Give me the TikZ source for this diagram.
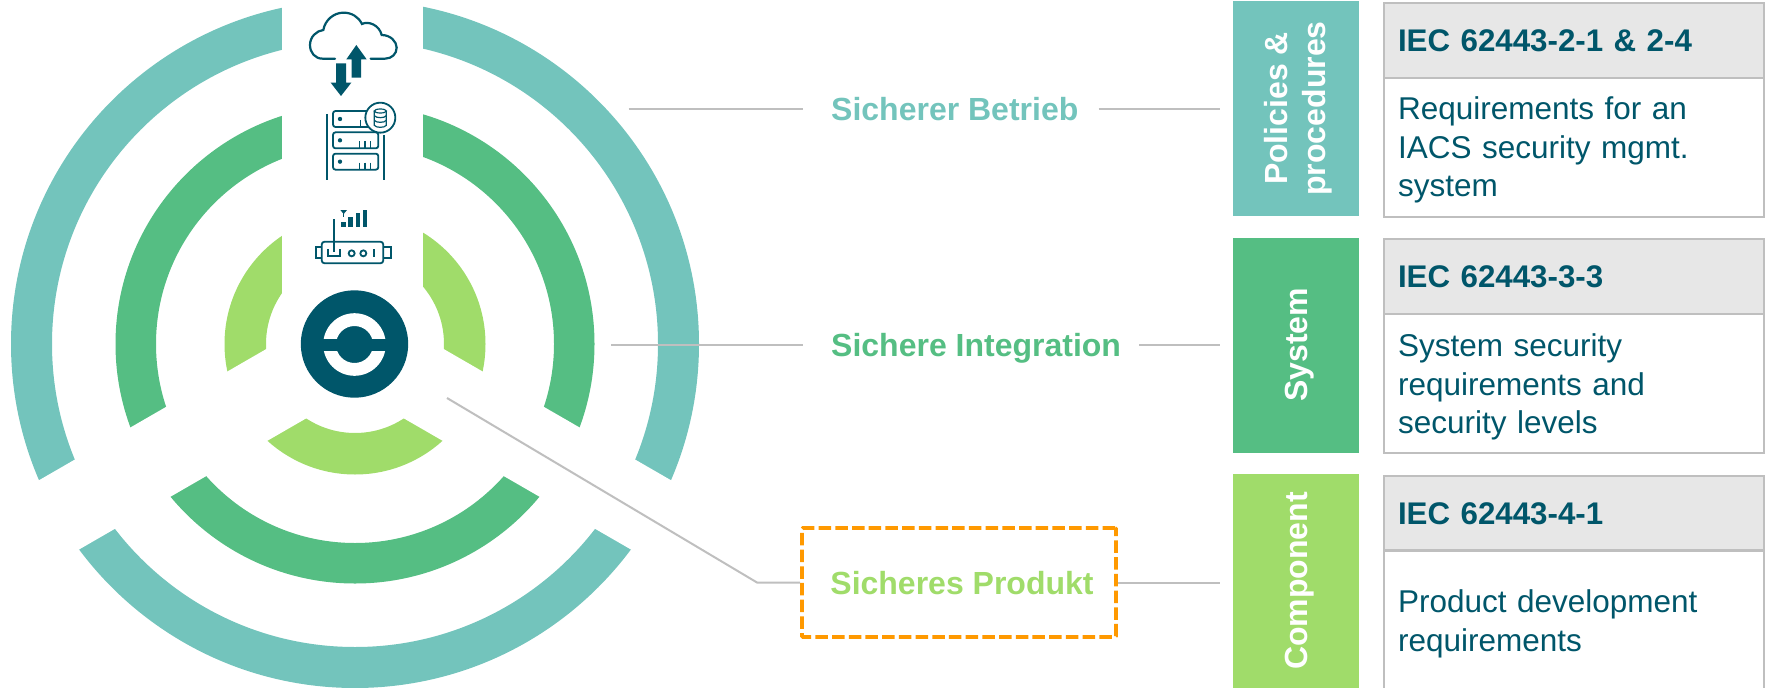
\documentclass[tikz,border=0pt]{standalone}
\usepackage{fontspec}
\setmainfont{Liberation Sans}
\usetikzlibrary{calc}
\definecolor{teal1}{HTML}{73C4BC}
\definecolor{green1}{HTML}{55BE83}
\definecolor{lime1}{HTML}{A0DC6A}
\definecolor{dark1}{HTML}{00566A}
\definecolor{rule1}{HTML}{BFBFBF}
\definecolor{head1}{HTML}{E7E7E7}
\definecolor{orange1}{HTML}{FF9900}
\tikzset{
  ring/.style={even odd rule,draw=none},
  gap/.style={fill=white,draw=none},
  leader/.style={draw=rule1,line width=2pt},
  side/.style={rotate=90,minimum width=215pt,minimum height=126.5pt,inner sep=0pt,align=center,text=white,
     font=\fontsize{32}{38}\selectfont\bfseries},
  heading/.style={anchor=base west,inner sep=0pt,text height=23pt,text depth=0pt,font=\fontsize{32}{38}\selectfont\bfseries},
  cellhead/.style={anchor=north west,draw=rule1,fill=head1,line width=2pt,text=dark1,text width=352pt,inner xsep=14pt,inner ysep=0pt,minimum height=75pt,text height=22pt,text depth=0pt,align=left,font=\fontsize{31.3}{39}\selectfont\bfseries},
  cellbody/.style={anchor=north west,draw=rule1,line width=2pt,text=dark1,text width=352pt,inner xsep=14pt,inner ysep=0pt,align=left,font=\fontsize{31.5}{38.6}\selectfont},
  icon/.style={draw=dark1,line width=2.2pt,fill=none},
  iconfill/.style={fill=dark1,draw=none},
}
\begin{document}
\begin{tikzpicture}[x=1pt,y=-1pt]
\useasboundingbox (0,0) rectangle (1767,688);
% rings
\coordinate (ctr) at (355,344);
\fill[teal1,ring] (ctr) circle (344) (ctr) circle (303);
\fill[green1,ring] (ctr) circle (239.5) (ctr) circle (199);
\fill[lime1,ring] (ctr) circle (130.5) (ctr) circle (89);
\fill[gap] (282,-5) rectangle (423,344);
\fill[gap,shift={(355,344)},rotate=-30] (0,-40) rectangle (380,40);
\fill[gap,shift={(355,344)},rotate=210] (0,-40) rectangle (380,40);
% logo
\fill[dark1] (354.5,344) circle (53.7);
\fill[white,even odd rule] (354.5,344.5) circle (31.3) (354.5,344.5) circle (18.5);
\fill[dark1] (320,339.3) rectangle (390,350.7);
% cloud icon
\begin{scope}[shift={(260,0)},x=0.33333pt,y=-0.33333pt]
\draw[icon,line cap=round] (225,176) -- (188,176) .. controls (165,176) and (150,158) .. (150,135) .. controls (150,110) and (170,92) .. (190,90)
  .. controls (195,60) and (222,38) .. (250,38) .. controls (275,38) and (295,50) .. (306,72)
  .. controls (325,62) and (358,75) .. (365,105) .. controls (392,105) and (410,125) .. (410,143) .. controls (410,162) and (395,176) .. (375,176) -- (332,176);
\fill[iconfill] (275,233) -- (275,178) -- (259,178) -- (289,135) -- (320,178) -- (303,178) -- (303,233) -- cycle;
\fill[iconfill] (228,190) -- (258,190) -- (258,248) -- (274,248) -- (243,288) -- (212,248) -- (228,248) -- cycle;
% server icon
\draw[icon,line width=1.8pt] (201,342) -- (201,540);
\draw[icon,line width=1.8pt] (371,405) -- (371,540);
\foreach \t in {333,397,461}{
  \draw[icon,line width=1.8pt,rounded corners=2.5pt] (219,\t) rectangle (355,\t+48);
  \fill[iconfill] (240,\t+24) circle (6.5);
}
\foreach \t in {397,461}{
  \foreach \u in {298,315,332}{
    \draw[icon,line width=1.5pt] (\u,\t+27) -- (\u,\t+48);
  }
}
\draw[icon,line width=1.5pt] (302,360) -- (302,381);
\draw[draw=dark1,fill=white,line width=1.8pt] (361,353) circle (45);
\draw[icon,line width=1.2pt] (361,333) ellipse (18 and 6);
\draw[icon,line width=1.2pt] (343,333) -- (343,376) .. controls (348,384) and (374,384) .. (379,376) -- (379,333);
\draw[icon,line width=1.2pt] (343,347) .. controls (348,355) and (374,355) .. (379,347);
\draw[icon,line width=1.2pt] (343,361) .. controls (348,369) and (374,369) .. (379,361);
\end{scope}
% router icon
\begin{scope}[shift={(300,200)},x=0.33333pt,y=-0.33333pt]
\draw[icon,line width=1.8pt,rounded corners=3pt] (65,125) rectangle (250,190);
\draw[icon,line width=1.8pt] (65,140) -- (47,140) -- (47,175) -- (65,175);
\draw[icon,line width=1.8pt] (250,140) -- (272,140) -- (272,175) -- (250,175);
\draw[icon,line width=1.8pt] (103,57) -- (103,155);
\draw[icon,line width=1.8pt] (85,148) -- (85,167) -- (120,167) -- (120,148);
\draw[icon,line width=1.8pt] (155,160) circle (9);
\draw[icon,line width=1.8pt] (190,160) circle (9);
\draw[icon,line width=1.8pt] (222,147) -- (222,172);
\fill[iconfill] (124,65) rectangle (137,80);
\fill[iconfill] (145,52) rectangle (158,80);
\fill[iconfill] (167,40) rectangle (180,80);
\fill[iconfill] (189,30) rectangle (202,80);
\fill[iconfill] (121,30) -- (141,30) -- (131,42) -- cycle;
\draw[icon,line width=1.2pt] (131,40) -- (131,52);
\end{scope}
% coloured side boxes
\node[side,fill=teal1] (pol) at (1296,108.5) {\rule{0pt}{28pt}Policies \&\\procedures};
\node[side,fill=green1] (sys) at (1296,345) {\rule{0pt}{30pt}System};
\node[side,fill=lime1,minimum width=214pt] (comp) at (1296,581) {\rule{0pt}{30pt}Component};
% middle labels
\node[heading,text=teal1] (betrieb) at (831,120) {Sicherer Betrieb};
\node[heading,text=green1] (integ) at (831,356.5) {Sichere Integration};
\node[draw=orange1,line width=3.6pt,dash pattern=on 12.5pt off 4.2pt,rounded corners=1pt,minimum width=314pt,minimum height=109pt,inner sep=0pt,text=lime1,text height=24pt,text depth=0pt,font=\fontsize{32}{38}\selectfont\bfseries] (prod) at (959,582.5) {\hspace*{6pt}Sicheres Produkt};
% leaders
\coordinate (betL) at (628.5,108.5);
\coordinate (intL) at (611,345);
\coordinate (prodA) at (447,398);
\coordinate (prodB) at (757,582.5);
\draw[leader] (betL) -- ([xshift=-28pt]betrieb.west);
\draw[leader] ([xshift=20pt]betrieb.east) -- ([xshift=-12.5pt]pol.north |- betrieb.east);
\draw[leader] (intL) -- ([xshift=-28pt]integ.west);
\draw[leader] ([xshift=18pt]integ.east) -- ([xshift=-12.5pt]sys.north |- integ.east);
\draw[leader] (prodA) -- (prodB) -- (prod.west);
\draw[leader] (prod.east) -- ([xshift=-12.5pt]comp.north |- prod.east);
% tables
\node[cellhead] (h1) at (1383,2) {IEC 62443-2-1 \& 2-4};
\node[cellbody,minimum height=139pt] (b1) at (1383,77) {\rule{0pt}{28pt}Requirements for an\\IACS security mgmt.\\system};
\node[cellhead] (h2) at (1383,238) {IEC 62443-3-3};
\node[cellbody,minimum height=139pt] (b2) at (1383,313) {\rule{0pt}{30pt}System security\\requirements and\\security levels};
\node[cellhead] (h3) at (1383,475) {IEC 62443-4-1};
\node[cellbody,minimum height=139pt] (b3) at (1383,549) {\rule{0pt}{32pt}Product development\\requirements};
\end{tikzpicture}
\end{document}
